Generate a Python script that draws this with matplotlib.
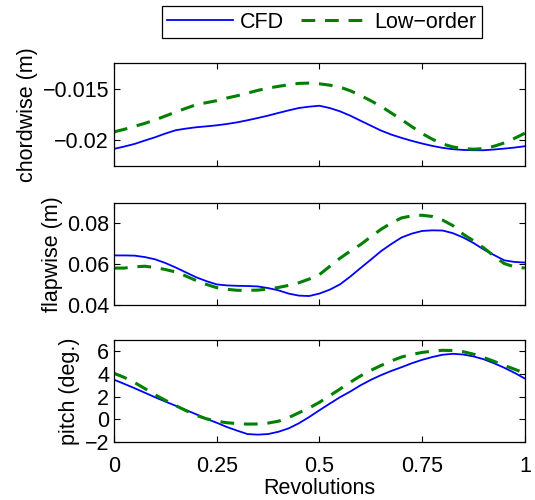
import matplotlib
matplotlib.use('Agg')
import matplotlib.pyplot as plt
from matplotlib.ticker import FuncFormatter

plt.rcParams['font.family'] = ['Liberation Sans', 'DejaVu Sans']

# revolution fraction where values were read
revs = [0.0, 0.025, 0.05, 0.075, 0.1, 0.125, 0.15, 0.175, 0.2, 0.225,
        0.25, 0.275, 0.3, 0.325, 0.35, 0.375, 0.4, 0.425, 0.45, 0.475,
        0.5, 0.525, 0.55, 0.575, 0.6, 0.625, 0.65, 0.675, 0.7, 0.725,
        0.75, 0.775, 0.8, 0.825, 0.85, 0.875, 0.9, 0.925, 0.95, 0.975, 1.0]

chord_cfd = [-0.02084, -0.02061, -0.02036, -0.02003, -0.01971, -0.01935, -0.01903,
             -0.01887, -0.01874, -0.01865, -0.01855, -0.01842, -0.01826, -0.01806,
             -0.01784, -0.01761, -0.01735, -0.01710, -0.01687, -0.01674, -0.01665,
             -0.01687, -0.01719, -0.01761, -0.01810, -0.01858, -0.01906, -0.01945,
             -0.01977, -0.02006, -0.02032, -0.02055, -0.02074, -0.02087, -0.02094,
             -0.02097, -0.02097, -0.02090, -0.02081, -0.02071, -0.02058]
chord_low = [-0.01919, -0.01894, -0.01865, -0.01836, -0.01803, -0.01765, -0.01726,
             -0.01690, -0.01655, -0.01635, -0.01616, -0.01590, -0.01568, -0.01542,
             -0.01516, -0.01494, -0.01477, -0.01461, -0.01448, -0.01445, -0.01452,
             -0.01465, -0.01484, -0.01519, -0.01565, -0.01616, -0.01671, -0.01735,
             -0.01800, -0.01868, -0.01935, -0.01990, -0.02036, -0.02065, -0.02081,
             -0.02087, -0.02081, -0.02058, -0.02026, -0.01981, -0.01932]

flap_cfd = [0.0643, 0.0643, 0.0642, 0.0635, 0.0624, 0.0606, 0.0584, 0.0560, 0.0536,
            0.0517, 0.0501, 0.0496, 0.0494, 0.0493, 0.0491, 0.0483, 0.0472, 0.0456,
            0.0446, 0.0444, 0.0456, 0.0475, 0.0501, 0.0539, 0.0581, 0.0622, 0.0664,
            0.0699, 0.0731, 0.0750, 0.0763, 0.0766, 0.0765, 0.0752, 0.0731, 0.0704,
            0.0672, 0.0645, 0.0619, 0.0611, 0.0608]
flap_low = [0.0581, 0.0581, 0.0587, 0.0590, 0.0584, 0.0574, 0.0562, 0.0542, 0.0520,
            0.0501, 0.0485, 0.0477, 0.0472, 0.0472, 0.0473, 0.0478, 0.0486, 0.0496,
            0.0509, 0.0527, 0.0549, 0.0589, 0.0629, 0.0664, 0.0696, 0.0734, 0.0771,
            0.0802, 0.0827, 0.0837, 0.0840, 0.0834, 0.0816, 0.0789, 0.0747, 0.0715,
            0.0680, 0.0640, 0.0603, 0.0587, 0.0581]

pitch_cfd = [3.5, 3.13, 2.75, 2.35, 1.95, 1.57, 1.2, 0.82, 0.45, 0.05, -0.3, -0.68,
             -1.0, -1.3, -1.35, -1.3, -1.1, -0.8, -0.35, 0.2, 0.8, 1.38, 1.95, 2.45,
             3.0, 3.48, 3.9, 4.27, 4.6, 4.95, 5.25, 5.5, 5.7, 5.78, 5.72, 5.55, 5.3,
             4.95, 4.55, 4.1, 3.6]
pitch_low = [4.06, 3.7, 3.25, 2.72, 2.17, 1.68, 1.22, 0.77, 0.35, 0.05, -0.17, -0.3,
             -0.38, -0.42, -0.41, -0.33, -0.17, 0.15, 0.58, 1.0, 1.5, 2.08, 2.67, 3.27,
             3.83, 4.32, 4.75, 5.15, 5.5, 5.73, 5.9, 6.02, 6.09, 6.07, 5.97, 5.75, 5.45,
             5.12, 4.75, 4.42, 4.06]

xticks = [0, 0.25, 0.5, 0.75, 1]

panels = [
    ('chordwise (m)', chord_cfd, chord_low, (-0.0225, -0.0125), [-0.02, -0.015]),
    ('flapwise (m)', flap_cfd, flap_low, (0.04, 0.09), [0.04, 0.06, 0.08]),
    ('pitch (deg.)', pitch_cfd, pitch_low, (-2, 7), [-2, 0, 2, 4, 6]),
]

def fmt(v, pos):
    return f'{v:g}'.replace('-', '\u2212')

fs = 15.5
fig = plt.figure(figsize=(5.35, 5.0), dpi=100)
boxes = [[0.213, 0.668, 0.768, 0.206],
         [0.213, 0.390, 0.768, 0.204],
         [0.213, 0.116, 0.768, 0.204]]

for i, (label, cfd, low, ylim, yticks) in enumerate(panels):
    ax = fig.add_axes(boxes[i])
    l1, = ax.plot(revs, cfd, color='#0000ff', lw=1.3, label='CFD')
    l2, = ax.plot(revs, low, color='#008000', lw=2.2, ls=(0, (4.5, 3.2)), label='Low\u2212order')
    ax.set_xlim(0, 1)
    ax.set_ylim(*ylim)
    ax.set_xticks(xticks)
    ax.set_yticks(yticks)
    ax.xaxis.set_major_formatter(FuncFormatter(fmt))
    ax.yaxis.set_major_formatter(FuncFormatter(fmt))
    ax.tick_params(direction='in', length=4, width=0.8, top=True, right=True,
                   labelsize=fs, pad=3.5)
    ax.tick_params(axis='x', pad=10)
    if i < 2:
        ax.tick_params(labelbottom=False)
    else:
        ax.set_xlabel('Revolutions', fontsize=fs, labelpad=1)
    ax.set_ylabel(label, fontsize=fs, labelpad=3)
    for s in ax.spines.values():
        s.set_linewidth(0.9)

leg = fig.legend([l1, l2], ['CFD', 'Low\u2212order'], loc='center',
                 bbox_to_anchor=(0.601, 0.956), ncol=2, fontsize=fs,
                 fancybox=False, edgecolor='black', framealpha=1,
                 handlelength=3.07, handletextpad=0.33, columnspacing=0.75,
                 borderpad=0.26)
leg.get_frame().set_linewidth(0.9)

fig.savefig('out.png', dpi=100)
